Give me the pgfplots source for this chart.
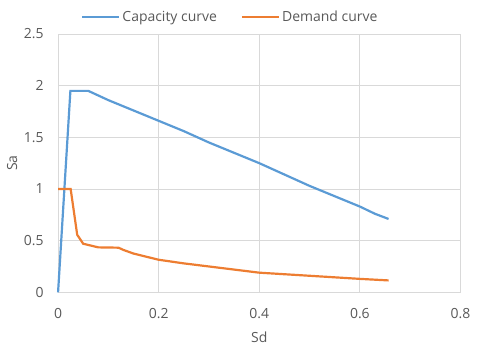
\documentclass[border=0pt]{standalone}
\usepackage{pgfplots}
\pgfplotsset{compat=1.18}
\usepackage{fontspec}
\setmainfont{Open Sans}
\definecolor{capblue}{HTML}{5B9BD5}
\definecolor{demorange}{HTML}{ED7D31}
\definecolor{gridgray}{HTML}{D9D9D9}
\definecolor{txtgray}{HTML}{595959}

\begin{document}
\begin{tikzpicture}[x=1bp,y=1bp]
\begin{axis}[
    scale only axis,
    width=402bp, height=258bp,
    xmin=0, xmax=0.8,
    ymin=0, ymax=2.5,
    xtick={0,0.2,0.4,0.6,0.8},
    ytick={0,0.5,1,1.5,2,2.5},
    grid=major,
    grid style={gridgray, line width=0.9pt},
    axis line style={gridgray, line width=0.9pt},
    tick style={draw=none},
    xticklabel style={/pgf/number format/fixed, /pgf/number format/precision=1, yshift=-13bp},
    yticklabel style={/pgf/number format/fixed, /pgf/number format/precision=1, xshift=-11bp},
    /pgf/number format/assume math mode=true,
    ticklabel style={font=\fontsize{14}{17}\selectfont, text=txtgray},
    label style={font=\fontsize{14}{17}\selectfont, text=txtgray},
    xlabel={Sd},
    xlabel style={at={(axis description cs:0.5,-0.1756)}, anchor=center},
    ylabel={Sa},
    ylabel style={at={(axis description cs:-0.114,0.5)}, anchor=center},
    legend style={draw=none, fill=none, at={(axis description cs:0.428,1.066)}, anchor=center,
        font=\fontsize{14}{17}\selectfont, text=txtgray, legend columns=-1,
        /tikz/every even column/.append style={column sep=22bp}},
    legend image code/.code={\draw[#1, line width=2.2pt] (0bp,0bp) -- (37bp,0bp);},
    clip=false,
]
\addplot[capblue, line width=2.2pt] coordinates {
(0,0) (0.0245,1.95) (0.06,1.95) (0.1,1.86) (0.15,1.76) (0.2,1.66)
(0.25,1.56) (0.3,1.45) (0.35,1.35) (0.4,1.25) (0.45,1.14) (0.5,1.03)
(0.55,0.93) (0.6,0.83) (0.63,0.76) (0.657,0.71)};
\addlegendentry{Capacity curve}
\addplot[demorange, line width=2.2pt] coordinates {
(0,1.0) (0.025,1.0) (0.038,0.557) (0.05,0.47) (0.08,0.435) (0.12,0.432)
(0.13,0.41) (0.15,0.375) (0.2,0.315) (0.25,0.28) (0.3,0.25) (0.35,0.22)
(0.4,0.19) (0.45,0.175) (0.5,0.16) (0.55,0.145) (0.6,0.13) (0.657,0.115)};
\addlegendentry{Demand curve}
\coordinate (bbsw) at (axis description cs:-0.1443,-0.2326);
\coordinate (bbne) at (axis description cs:1.0485,1.1318);
\end{axis}
\path[use as bounding box] (bbsw) rectangle (bbne);
\end{tikzpicture}
\end{document}
